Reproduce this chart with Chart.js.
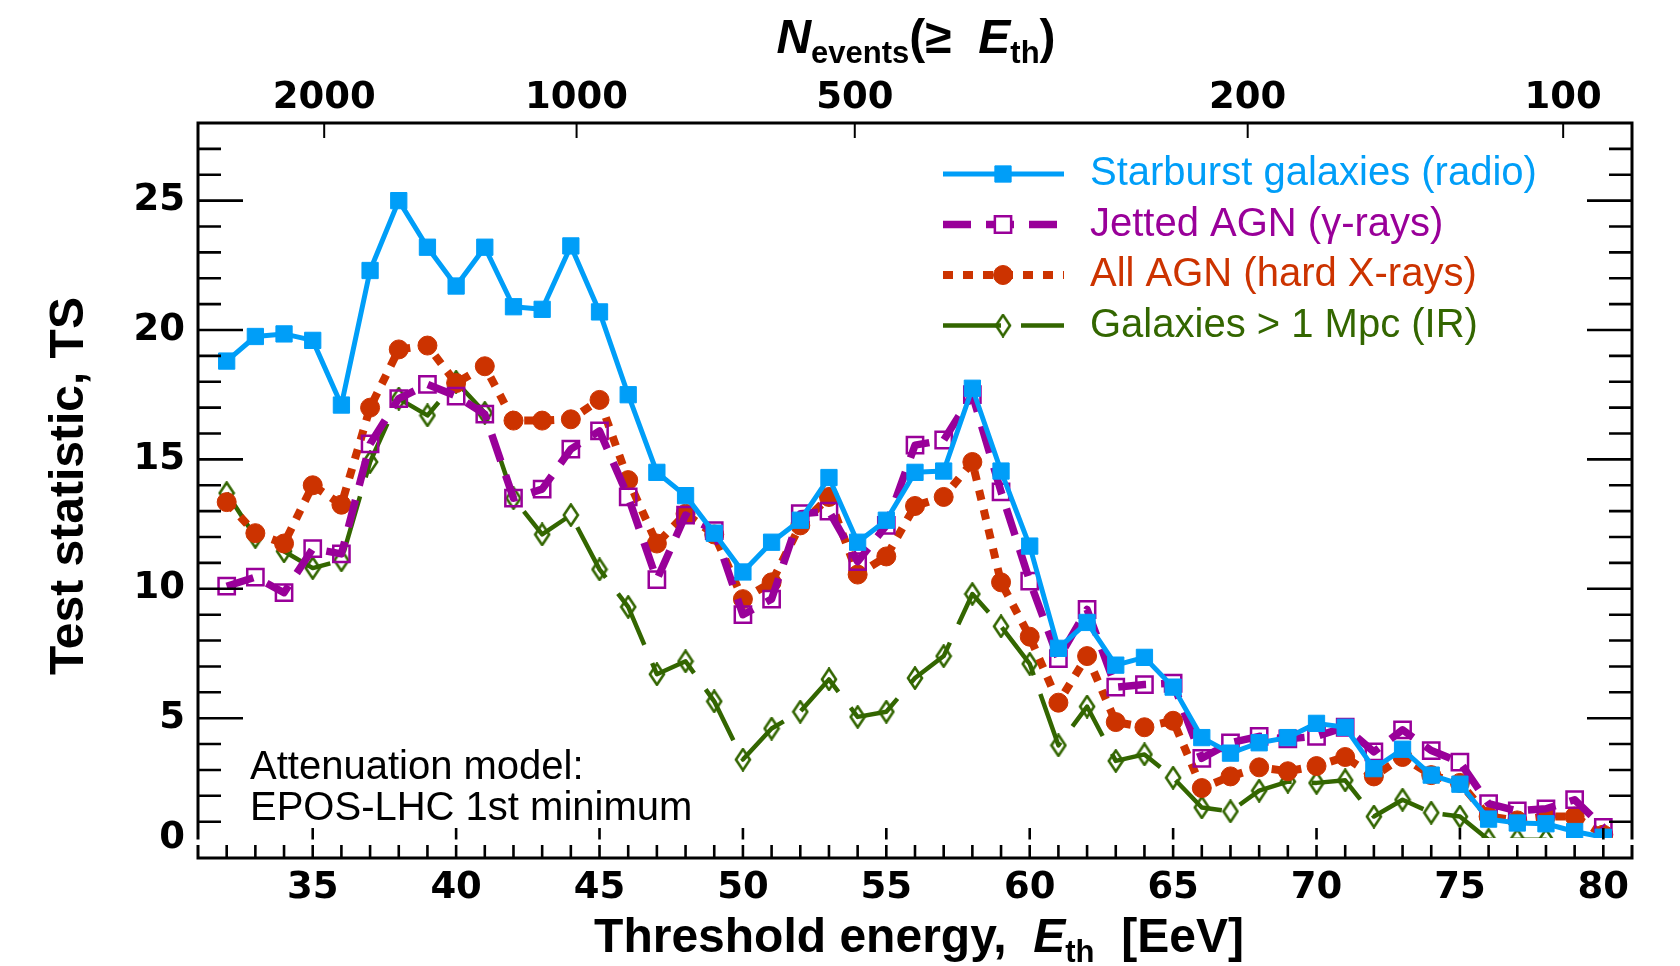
<!DOCTYPE html>
<html>
<head>
<meta charset="utf-8">
<title>Test statistic vs threshold energy</title>
<script src="https://cdn.jsdelivr.net/npm/chart.js@4.4.1/dist/chart.umd.min.js"></script>
<style>
  html, body { margin: 0; padding: 0; background: #fff; }
  canvas { display: block; }
</style>
</head>
<body>
<canvas id="tsChart" width="1680" height="966"></canvas>
<script>
const energies = [32, 33, 34, 35, 36, 37, 38, 39, 40, 41, 42, 43, 44, 45, 46, 47, 48, 49, 50, 51,
  52, 53, 54, 55, 56, 57, 58, 59, 60, 61, 62, 63, 64, 65, 66, 67, 68, 69, 70, 71,
  72, 73, 74, 75, 76, 77, 78, 79, 80];

const starburst = [18.8, 19.75, 19.85, 19.6, 17.1, 22.3, 25.0, 23.2, 21.7, 23.2,
  20.9, 20.8, 23.25, 20.7, 17.5, 14.5, 13.6, 12.15, 10.65, 11.8,
  12.65, 14.3, 11.8, 12.65, 14.5, 14.55, 17.75, 14.55, 11.65, 7.7,
  8.7, 7.05, 7.35, 6.2, 4.25, 3.65, 4.05, 4.25, 4.8, 4.65,
  3.05, 3.8, 2.8, 2.45, 1.1, 0.95, 0.92, 0.62, 0.4];

const jettedAgn = [10.1, 10.45, 9.85, 11.55, 11.35, 15.6, 17.35, 17.9, 17.45, 16.75,
  13.5, 13.85, 15.4, 16.1, 13.55, 10.35, 12.85, 12.25, 9.0, 9.6,
  12.9, 13.0, 11.05, 12.45, 15.55, 15.75, 17.5, 13.75, 10.3, 7.3,
  9.2, 6.2, 6.3, 6.35, 3.45, 4.05, 4.3, 4.2, 4.3, 4.65,
  3.7, 4.55, 3.75, 3.3, 1.7, 1.42, 1.5, 1.85, 0.78];

const allAgn = [13.35, 12.15, 11.75, 14.0, 13.25, 17.0, 19.25, 19.4, 17.95, 18.6,
  16.5, 16.5, 16.55, 17.3, 14.2, 11.75, 12.9, 12.1, 9.6, 10.25,
  12.45, 13.55, 10.55, 11.25, 13.2, 13.55, 14.9, 10.25, 8.15, 5.6,
  7.4, 4.85, 4.65, 4.9, 2.3, 2.75, 3.1, 2.95, 3.15, 3.5,
  2.75, 3.5, 2.8, 2.5, 1.2, 1.05, 1.2, 1.2, 0.5];

const galaxiesIR = [13.7, 12.0, 11.45, 10.8, 11.1, 14.9, 17.35, 16.7, 18.0, 16.8,
  13.5, 12.1, 12.85, 10.75, 9.3, 6.7, 7.2, 5.65, 3.4, 4.6,
  5.25, 6.5, 5.05, 5.25, 6.55, 7.4, 9.8, 8.55, 7.1, 3.95,
  5.45, 3.35, 3.6, 2.7, 1.55, 1.4, 2.2, 2.55, 2.5, 2.6,
  1.2, 1.85, 1.35, 1.2, 0.3, 0.3, 0.3, 0.0, 0.0];

const energyTicks = [35, 40, 45, 50, 55, 60, 65, 70, 75, 80];
const tsTicks = [0, 5, 10, 15, 20, 25];
const nEventsLabels = ["2000", "1000", "500", "200", "100"];
const nEventsEnergy = [35.4, 44.2, 53.9, 67.6, 78.6];

const X_MIN = 31, X_MAX = 81;
const Y_MIN = 0.37, Y_MAX = 28;

const FONT = '"Liberation Sans", Arial, Helvetica, sans-serif';
const NUM_FONT = '"DejaVu Sans", "Liberation Sans", sans-serif';
const BLUE = "#009ef8";
const PURPLE = "#990099";
const ORANGE = "#cc3300";
const GREEN = "#336600";

function points(values) {
  return values.map((v, i) => ({ x: energies[i], y: v }));
}

// narrow open diamond, like ROOT marker 27
function makeDiamond(color) {
  const c = document.createElement("canvas");
  c.width = 18;
  c.height = 24;
  const g = c.getContext("2d");
  g.strokeStyle = color;
  g.lineWidth = 2.6;
  g.beginPath();
  g.moveTo(9, 1.5);
  g.lineTo(16, 12);
  g.lineTo(9, 22.5);
  g.lineTo(2, 12);
  g.closePath();
  g.stroke();
  return c;
}

function drawParts(ctx, parts, cx, baseline) {
  let total = 0;
  parts.forEach((p) => {
    ctx.font = p.font;
    p.w = ctx.measureText(p.text).width;
    total += p.w;
  });
  let x = cx - total / 2;
  ctx.textAlign = "left";
  ctx.textBaseline = "alphabetic";
  parts.forEach((p) => {
    ctx.font = p.font;
    ctx.fillText(p.text, x, baseline + (p.dy || 0));
    x += p.w;
  });
}

// frame and ticks drawn in the ROOT style: ticks pointing inwards
const frame = {
  id: "frame",
  afterDatasetsDraw(chart) {
    const ctx = chart.ctx;
    const { left, right, top, bottom } = chart.chartArea;
    const xs = chart.scales.x;
    const ys = chart.scales.y;
    const base = bottom + 20;

    ctx.save();
    ctx.strokeStyle = "#000";
    ctx.lineCap = "butt";

    ctx.lineWidth = 2.6;
    for (let v = 1; v < Y_MAX; v++) {
      const py = ys.getPixelForValue(v);
      const len = v % 5 === 0 ? 45 : 23;
      ctx.beginPath();
      ctx.moveTo(left, py);
      ctx.lineTo(left + len, py);
      ctx.moveTo(right, py);
      ctx.lineTo(right - len, py);
      ctx.stroke();
    }

    for (let e = X_MIN + 1; e < X_MAX; e++) {
      const px = xs.getPixelForValue(e);
      const len = e % 5 === 0 ? 30 : 17;
      ctx.beginPath();
      ctx.moveTo(px, base);
      ctx.lineTo(px, base - len);
      ctx.stroke();
    }

    ctx.lineWidth = 2;
    nEventsEnergy.forEach((e) => {
      const px = xs.getPixelForValue(e);
      ctx.beginPath();
      ctx.moveTo(px, top);
      ctx.lineTo(px, top + 15);
      ctx.stroke();
    });

    ctx.lineWidth = 3;
    ctx.beginPath();
    ctx.moveTo(left, base);
    ctx.lineTo(left, top);
    ctx.lineTo(right, top);
    ctx.lineTo(right, base);
    ctx.closePath();
    ctx.stroke();

    // thin white strip between the pad and the axis band
    ctx.fillStyle = "#fff";
    ctx.fillRect(left - 3, bottom + 1.5, right - left + 6, 5.5);
    ctx.restore();
  },
  afterDraw(chart) {
    const ctx = chart.ctx;
    ctx.save();
    ctx.fillStyle = "#000";

    ctx.save();
    ctx.translate(70, 486);
    ctx.rotate(-Math.PI / 2);
    ctx.font = "bold 48px " + FONT;
    ctx.textAlign = "center";
    ctx.textBaseline = "middle";
    ctx.fillText("Test statistic, TS", 0, 0);
    ctx.restore();

    drawParts(ctx, [
      { text: "Threshold energy,  ", font: "bold 48px " + FONT },
      { text: "E", font: "italic bold 48px " + FONT },
      { text: "th", font: "bold 31px " + FONT, dy: 10 },
      { text: "  [EeV]", font: "bold 48px " + FONT },
    ], 919, 952);

    drawParts(ctx, [
      { text: "N", font: "italic bold 48px " + FONT },
      { text: "events", font: "bold 31px " + FONT, dy: 10 },
      { text: "(\u2265  ", font: "bold 48px " + FONT },
      { text: "E", font: "italic bold 48px " + FONT },
      { text: "th", font: "bold 31px " + FONT, dy: 10 },
      { text: ")", font: "bold 48px " + FONT },
    ], 916, 53);

    ctx.font = "40px " + FONT;
    ctx.textAlign = "left";
    ctx.textBaseline = "alphabetic";
    ctx.fillText("Attenuation model:", 250, 779);
    ctx.fillText("EPOS-LHC 1st minimum", 250, 820);

    // legend
    const x0 = 943, x1 = 1064, mx = 1003;
    chart.data.datasets.forEach((ds, i) => {
      const y = 174 + i * 50.5;
      ctx.strokeStyle = ds.borderColor;
      ctx.lineWidth = ds.borderWidth;
      ctx.setLineDash(ds.borderDash || []);
      ctx.beginPath();
      ctx.moveTo(x0, y);
      ctx.lineTo(x1, y);
      ctx.stroke();
      ctx.setLineDash([]);
      ctx.fillStyle = ds.pointBackgroundColor === "transparent" ? "#fff" : ds.pointBackgroundColor;
      ctx.strokeStyle = ds.pointBorderColor;
      ctx.lineWidth = ds.pointBorderWidth;
      Chart.helpers.drawPoint(ctx, {
        pointStyle: ds.pointStyle,
        radius: ds.pointRadius,
        rotation: 0,
        borderWidth: ds.pointBorderWidth,
      }, mx, y);
      ctx.fillStyle = ds.borderColor;
      ctx.font = "40px " + FONT;
      ctx.textAlign = "left";
      ctx.textBaseline = "middle";
      ctx.fillText(ds.label, 1090, y);
    });
    ctx.restore();
  },
};

const tickFont = { family: NUM_FONT, size: 37, weight: "bold" };

new Chart(document.getElementById("tsChart"), {
  type: "line",
  data: {
    datasets: [
      {
        label: "Starburst galaxies (radio)",
        data: points(starburst),
        borderColor: BLUE,
        borderWidth: 5,
        pointStyle: "rect",
        pointRadius: 11.5,
        pointBackgroundColor: BLUE,
        pointBorderColor: BLUE,
        pointBorderWidth: 1,
        order: 0,
      },
      {
        label: "Jetted AGN (\u03b3-rays)",
        data: points(jettedAgn),
        borderColor: PURPLE,
        borderWidth: 7.5,
        borderDash: [28, 15],
        pointStyle: "rect",
        pointRadius: 11.5,
        pointBackgroundColor: "transparent",
        pointBorderColor: PURPLE,
        pointBorderWidth: 2.5,
        order: 1,
      },
      {
        label: "All AGN (hard X-rays)",
        data: points(allAgn),
        borderColor: ORANGE,
        borderWidth: 8,
        borderDash: [10, 10],
        pointStyle: "circle",
        pointRadius: 9.5,
        pointBackgroundColor: ORANGE,
        pointBorderColor: ORANGE,
        pointBorderWidth: 1,
        order: 2,
      },
      {
        label: "Galaxies > 1 Mpc (IR)",
        data: points(galaxiesIR),
        borderColor: GREEN,
        borderWidth: 4.5,
        borderDash: [58, 20],
        pointStyle: makeDiamond(GREEN),
        pointRadius: 10,
        pointBackgroundColor: "transparent",
        pointBorderColor: GREEN,
        pointBorderWidth: 0,
        order: 3,
      },
    ],
  },
  options: {
    responsive: false,
    devicePixelRatio: 1,
    animation: false,
    layout: { padding: { left: 0, right: 48, top: 0, bottom: 0 } },
    elements: { line: { tension: 0, borderCapStyle: "butt", borderJoinStyle: "round", fill: false } },
    datasets: { line: { clip: 0 } },
    plugins: { legend: { display: false }, tooltip: { enabled: false } },
    scales: {
      x: {
        type: "linear",
        position: "bottom",
        min: X_MIN,
        max: X_MAX,
        grid: { display: false, drawTicks: false },
        border: { display: false },
        afterFit: (s) => { s.height = 128; },
        afterBuildTicks: (s) => { s.ticks = energyTicks.map((v) => ({ value: v })); },
        ticks: {
          autoSkip: false,
          maxRotation: 0,
          padding: 28,
          color: "#000",
          font: tickFont,
          callback: (v) => String(v),
        },
      },
      x2: {
        type: "linear",
        position: "top",
        min: X_MIN,
        max: X_MAX,
        grid: { display: false, drawTicks: false },
        border: { display: false },
        afterFit: (s) => { s.height = 123; },
        afterBuildTicks: (s) => { s.ticks = nEventsEnergy.map((v) => ({ value: v })); },
        ticks: {
          autoSkip: false,
          maxRotation: 0,
          padding: 2,
          color: "#000",
          font: tickFont,
          callback: (v, i) => nEventsLabels[i],
        },
      },
      y: {
        type: "linear",
        min: Y_MIN,
        max: Y_MAX,
        grid: { display: false, drawTicks: false },
        border: { display: false },
        afterFit: (s) => { s.width = 198; },
        afterBuildTicks: (s) => { s.ticks = tsTicks.map((v) => ({ value: Math.max(v, Y_MIN) })); },
        ticks: {
          autoSkip: false,
          padding: 13,
          color: "#000",
          font: tickFont,
          callback: (v, i) => String(tsTicks[i]),
        },
      },
    },
  },
  plugins: [frame],
});
</script>
</body>
</html>
